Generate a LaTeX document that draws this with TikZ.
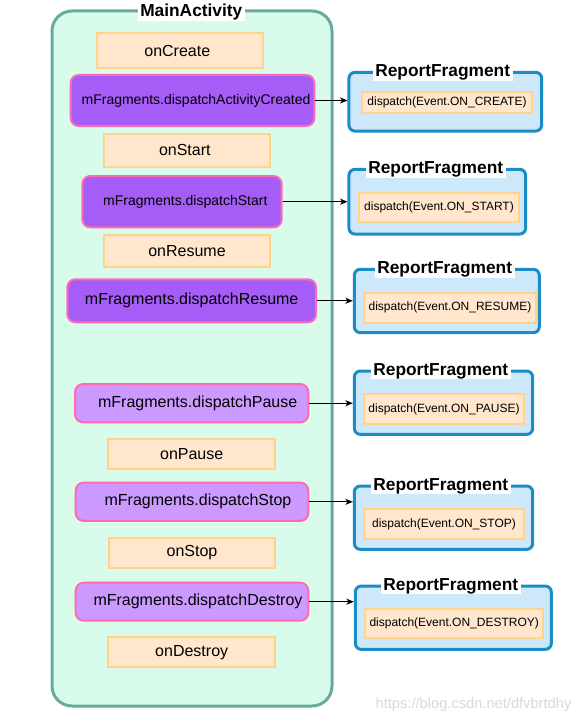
\documentclass[tikz,border=0pt]{standalone}
\usepackage{fontspec}
\setmainfont{Liberation Sans}
\usetikzlibrary{arrows.meta}
\definecolor{mint}{HTML}{D8FBEB}
\definecolor{mintline}{HTML}{67AB9F}
\definecolor{ofill}{HTML}{FFE6CC}
\definecolor{oline}{HTML}{FFD38A}
\definecolor{pdark}{HTML}{A65CF6}
\definecolor{plight}{HTML}{CC99FF}
\definecolor{pline}{HTML}{FF6AB0}
\definecolor{bfill}{HTML}{CCE8FA}
\definecolor{bline}{HTML}{1A8CC6}
\tikzset{
  sz/.style 2 args={minimum width=#1*0.75pt, minimum height=#2*0.75pt},
  container/.style={draw=mintline, fill=mint, line width=2.25pt, rounded corners=15pt, inner sep=0pt},
  maintitle/.style={fill=white, inner xsep=2pt, inner ysep=0.5pt, font=\fontsize{13}{15}\selectfont\bfseries},
  obox/.style={draw=oline, fill=ofill, line width=1.5pt, inner sep=0pt, font=\fontsize{12}{14}\selectfont},
  pbox/.style={draw=pline, fill=pdark, line width=1.5pt, rounded corners=6pt, inner sep=0pt, font=\fontsize{12}{14}\selectfont},
  pboxs/.style={pbox, font=\fontsize{10.5}{12}\selectfont},
  plbox/.style={pbox, fill=plight},
  frag/.style={draw=bline, fill=bfill, line width=2.25pt, rounded corners=4.5pt, inner sep=0pt},
  fragtitle/.style={fill=white, inner xsep=2pt, inner ysep=0.5pt, font=\fontsize{13}{15}\selectfont\bfseries},
  ibox/.style={draw=oline, fill=ofill, line width=1.5pt, inner sep=0pt, font=\fontsize{9}{11}\selectfont},
  conn/.style={draw=black, line width=0.9pt, -{Stealth[length=5.5pt,width=4.5pt,inset=1.5pt]}},
}
\begin{document}
\begin{tikzpicture}[x=0.75pt,y=-0.75pt]
\useasboundingbox (0,0) rectangle (579,724);
\fill[white] (0,0) rectangle (579,724);

% main container
\node[container, sz={280}{695}] (main) at (192,358.5) {};
\node[maintitle] (mt) at (191.3,12.3) {MainActivity};

% left column
\node[obox, sz={166}{35.6}] (c1) at (180.3,50.5) {onCreate\hspace*{4.5pt}};
\node[pboxs, sz={243.6}{51}] (p1) at (192.5,100.5) {\hspace*{5.25pt}mFragments.dispatchActivityCreated};
\node[obox, sz={166}{32.7}] (c2) at (187.3,150.3) {onStart\hspace*{3.75pt}};
\node[pboxs, sz={199.4}{51.3}] (p2) at (182,201.7) {\hspace*{5pt}mFragments.dispatchStart};
\node[obox, sz={166}{32}] (c3) at (187,251) {onResume};
\node[pbox, sz={248.7}{43}] (p3) at (191.7,300.8) {mFragments.dispatchResume};
\node[plbox, sz={233.3}{38.3}] (p4) at (191.7,403.2) {\hspace*{9pt}mFragments.dispatchPause};
\node[obox, sz={166.7}{30}] (c4) at (191.7,454) {onPause};
\node[plbox, sz={232.6}{38.3}] (p5) at (192,501.8) {\hspace*{9pt}mFragments.dispatchStop};
\node[obox, sz={166}{30}] (c5) at (192,552.7) {onStop};
\node[plbox, sz={232.6}{38}] (p6) at (192,601.7) {\hspace*{9pt}mFragments.dispatchDestroy};
\node[obox, sz={166.7}{30}] (c6) at (191.7,652.3) {onDestroy};

% report fragments
\node[frag, sz={192.7}{58.7}] (r1) at (445.3,101.7) {};
\node[fragtitle] (t1) at (442.7,72.3) {ReportFragment};
\node[ibox, sz={170}{21}] (i1) at (447,102.8) {dispatch(Event.ON\_CREATE)};

\node[frag, sz={176.7}{64.7}] (r2) at (437.3,201.7) {};
\node[fragtitle] (t2) at (435.7,169.3) {ReportFragment};
\node[ibox, sz={160}{29}] (i2) at (439,207.8) {dispatch(Event.ON\_START)};

\node[frag, sz={185}{63.4}] (r3) at (446.8,301) {};
\node[fragtitle] (t3) at (444.7,269.3) {ReportFragment};
\node[ibox, sz={172}{30}] (i3) at (450,307.7) {dispatch(Event.ON\_RESUME)};

\node[frag, sz={178.4}{63.3}] (r4) at (443.5,402.7) {};
\node[fragtitle] (t4) at (440.8,371) {ReportFragment};
\node[ibox, sz={160}{30.3}] (i4) at (444,409.2) {dispatch(Event.ON\_PAUSE)};

\node[frag, sz={178.4}{63.3}] (r5) at (443.5,517.7) {};
\node[fragtitle] (t5) at (440.8,486) {ReportFragment};
\node[ibox, sz={160}{30}] (i5) at (444,524.3) {dispatch(Event.ON\_STOP)};

\node[frag, sz={196}{63.3}] (r6) at (453.3,617.7) {};
\node[fragtitle] (t6) at (450.8,586) {ReportFragment};
\node[ibox, sz={178.3}{29}] (i6) at (454.2,623.8) {dispatch(Event.ON\_DESTROY)};

% connectors
\draw[conn] (p1.east) -- (p1.east -| r1.west);
\draw[conn] (p2.east) -- (p2.east -| r2.west);
\draw[conn] (p3.east) -- (p3.east -| r3.west);
\draw[conn] (p4.east) -- (p4.east -| r4.west);
\draw[conn] (p5.east) -- (p5.east -| r5.west);
\draw[conn] (p6.east) -- (p6.east -| r6.west);

% watermark
\node[text=black!15, font=\fontsize{11}{13}\selectfont, inner sep=0pt] (wm) at (473.5,705) {https://blog.csdn.net/dfvbrtdhy};
\end{tikzpicture}
\end{document}
